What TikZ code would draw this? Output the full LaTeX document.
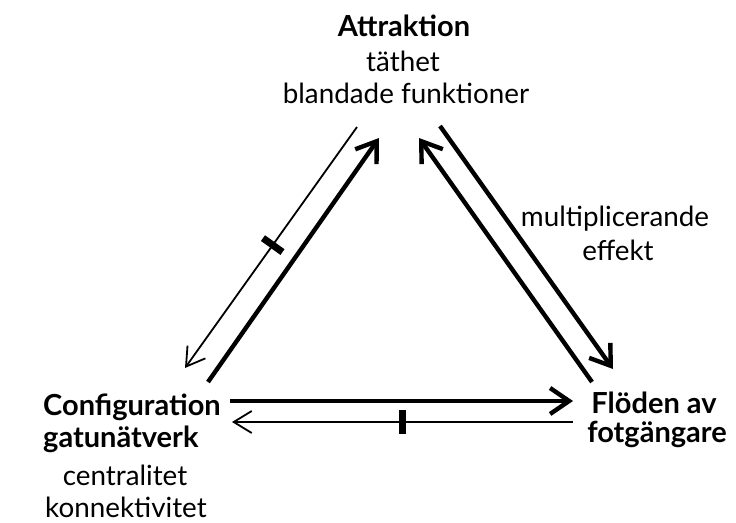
\documentclass[tikz,border=0pt]{standalone}
\usepackage{fontspec}
\setmainfont{Lato}
\usetikzlibrary{arrows.meta}
\begin{document}
\begin{tikzpicture}[x=1pt,y=-1pt,
  txt/.style={inner sep=0pt, anchor=base, font=\fontsize{27.8}{32}\selectfont},
  ttl/.style={inner sep=0pt, anchor=base, font=\bfseries\fontsize{29}{34}\selectfont},
  heavy/.style={line width=4.4pt, -{Straight Barb[length=19pt,width=26pt]}},
  light/.style={line width=1.8pt, -{Straight Barb[length=18pt,width=22pt]}},
  blocker/.style={fill=black, inner sep=0pt, minimum width=7pt, minimum height=24pt, sloped}]
\useasboundingbox (0,0) rectangle (736,522);

% Attraction (top)
\node[ttl] (attr)  at (404,36)  {Attraktion};
\node[txt] (attr1) at (403,71)  {täthet};
\node[txt] (attr2) at (406,103) {blandade funktioner};

% Street network configuration (left)
\node[ttl, anchor=base west] (conf)  at (43,415) {Configuration};
\node[ttl, anchor=base west] (conf2) at (43,447) {gatunätverk};
\node[txt] (conf3) at (125,485) {centralitet};
\node[txt, text depth=0pt] (conf4) at (126,517) {konnektivitet};

% Pedestrian flows (right)
\node[ttl] (flow)  at (654,413) {Flöden av};
\node[ttl] (flow2) at (657,442) {fotgängare};

% Edge label
\node[txt] (mult)  at (615,226) {multiplicerande};
\node[txt] (mult2) at (618,260) {effekt};

% Connector end points
\coordinate (cA1) at (208,382);  \coordinate (aC1) at (379,138);
\coordinate (aC2) at (357,127);  \coordinate (cA2) at (185,368);
\coordinate (aF1) at (440,126);  \coordinate (fA1) at (613,369);
\coordinate (fA2) at (592,382);  \coordinate (aF2) at (419,138);
\coordinate (cF1) at (230,401);  \coordinate (fC1) at (573,401);
\coordinate (fC2) at (573,422);  \coordinate (cF2) at (232,422);

% Configuration <-> Attraction
\draw[heavy] (cA1) -- (aC1);
\draw[light] (aC2) -- (cA2);
\path (aC2) -- (cA2) node[blocker, pos=0.49] (blkA) {};

% Attraction <-> Flows
\draw[heavy] (aF1) -- (fA1);
\draw[heavy] (fA2) -- (aF2);

% Configuration <-> Flows
\draw[heavy] (cF1) -- (fC1);
\draw[light] (fC2) -- (cF2);
\path (fC2) -- (cF2) node[blocker, pos=0.5] (blkF) {};
\end{tikzpicture}
\end{document}
